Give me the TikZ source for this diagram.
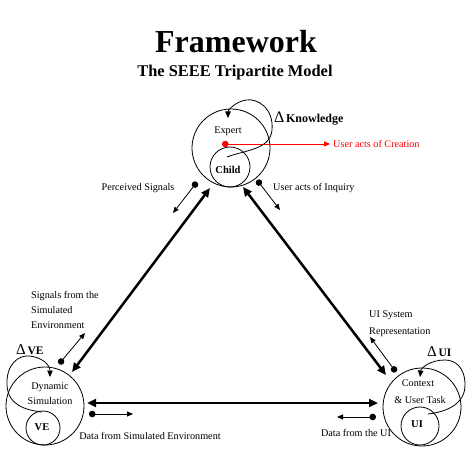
\documentclass[tikz,border=0pt]{standalone}
\usepackage{fontspec}
\setmainfont{Liberation Serif}
\usetikzlibrary{arrows.meta}
\begin{document}
\begin{tikzpicture}[x=1pt,y=-1pt,
  ring/.style={circle,draw,line width=0.8pt,inner sep=0pt},
  lbl/.style={inner sep=0pt,font=\fontsize{10.2}{15}\selectfont},
  bold/.style={inner sep=0pt,font=\fontsize{10.5}{12}\selectfont\bfseries},
  thick arrow/.style={line width=2.5pt,{Triangle[length=9pt,width=8pt]}-{Triangle[length=9pt,width=8pt]}},
  small arrow/.style={line width=0.8pt,{Circle[length=6.5pt]}-{Triangle[length=6pt,width=5pt]}},
  loop arrow/.style={line width=0.8pt,-{Triangle[length=6.5pt,width=5.5pt]}}]
\useasboundingbox (0,0) rectangle (474,449);
% titles
\node[inner sep=0pt,font=\fontsize{32}{34}\selectfont\bfseries] (title) at (236,42) {Framework};
\node[inner sep=0pt,font=\fontsize{16.4}{18}\selectfont\bfseries] (subtitle) at (235,73) {The SEEE Tripartite Model};
% top cluster
\node[ring,minimum size=78pt] (expert) at (231,148) {};
\node[ring,minimum size=40pt] (child) at (230,167) {};
\node[lbl] (experttxt) at (228,131) {Expert};
\node[bold] (childtxt) at (228,170) {Child};
\node[inner sep=0pt,anchor=west] (dk) at (274,119) {{\fontsize{16}{18}\selectfont Δ}\,{\fontsize{12}{14}\selectfont\bfseries Knowledge}};
% left cluster
\node[ring,minimum size=78pt] (sim) at (45,406) {};
\node[ring,minimum size=34pt] (ve) at (43,428) {};
\node[lbl] (dyn) at (50,387) {Dynamic};
\node[lbl] (simtxt) at (50,401) {Simulation};
\node[bold] (vetxt) at (42,427) {VE};
\node[inner sep=0pt,anchor=west] (dve) at (16,350) {{\fontsize{15}{18}\selectfont Δ}\,{\fontsize{11.5}{14}\selectfont\bfseries VE}};
% right cluster
\node[ring,minimum size=78pt] (ctx) at (422,407) {};
\node[ring,minimum size=38pt] (ui) at (420,426) {};
\node[lbl] (ctxtxt) at (418,383) {Context};
\node[lbl] (tasktxt) at (420,400) {\& User Task};
\node[bold] (uitxt) at (417,424) {UI};
\node[inner sep=0pt,anchor=west] (dui) at (427,352) {{\fontsize{15}{18}\selectfont Δ}\,{\fontsize{11.5}{14}\selectfont\bfseries UI}};
% labels
\node[lbl] (ps) at (138,188) {Perceived Signals};
\node[lbl,anchor=west] (inq) at (273,188) {User acts of Inquiry};
\node[lbl,anchor=west,align=left] (sig) at (31,310) {Signals from the\\Simulated\\Environment};
\node[lbl,anchor=west,align=left] (uisys) at (369,323.5) {UI System\\[1.5pt]Representation};
\node[lbl] (dse) at (150,436) {Data from Simulated Environment};
\node[lbl] (duitxt) at (356,433) {Data from the UI};
\node[lbl,anchor=west,text=red] (create) at (333,144) {User acts of Creation};
% coordinates
\coordinate (lt) at (210,188); \coordinate (lb) at (72,372);
\coordinate (rt) at (243,187); \coordinate (rb) at (386,375);
\coordinate (bl) at (87,403); \coordinate (br) at (378,403);
\coordinate (psa) at (197,182); \coordinate (psb) at (173,213);
\coordinate (iqa) at (257,180); \coordinate (iqb) at (280,210);
\coordinate (sga) at (59,364); \coordinate (sgb) at (85,333);
\coordinate (ura) at (396,372); \coordinate (urb) at (370,337);
\coordinate (dsa) at (89,414); \coordinate (dsb) at (133,414);
\coordinate (dua) at (376,417); \coordinate (dub) at (337,417);
\coordinate (cra) at (222,144); \coordinate (crb) at (330,144);
\coordinate (kl0) at (227,157); \coordinate (kl1) at (228,118);
\coordinate (vl0) at (42,412); \coordinate (vl1) at (50,377);
\coordinate (ul0) at (428,414); \coordinate (ul1) at (420,377);
% main triangle
\draw[thick arrow] (lt) -- (lb);
\draw[thick arrow] (rt) -- (rb);
\draw[thick arrow] (bl) -- (br);
% small arrows
\draw[small arrow] (psa) -- (psb);
\draw[small arrow] (iqa) -- (iqb);
\draw[small arrow] (sga) -- (sgb);
\draw[small arrow] (ura) -- (urb);
\draw[small arrow] (dsa) -- (dsb);
\draw[small arrow] (dua) -- (dub);
\draw[small arrow,red,line width=0.9pt] (cra) -- (crb);
% loops
\draw[loop arrow] (kl0) .. controls (245,150) and (270,150) .. (272,130)
  .. controls (274,108) and (257,98) .. (246,100)
  .. controls (235,102) and (228,110) .. (kl1);
\draw[loop arrow] (vl0) .. controls (25,410) and (8,405) .. (7,385)
  .. controls (6,365) and (18,355) .. (29,356)
  .. controls (42,357) and (50,365) .. (vl1);
\draw[loop arrow] (ul0) .. controls (445,412) and (465,405) .. (465,385)
  .. controls (465,367) and (455,360) .. (445,360)
  .. controls (430,360) and (421,368) .. (ul1);
\end{tikzpicture}
\end{document}
